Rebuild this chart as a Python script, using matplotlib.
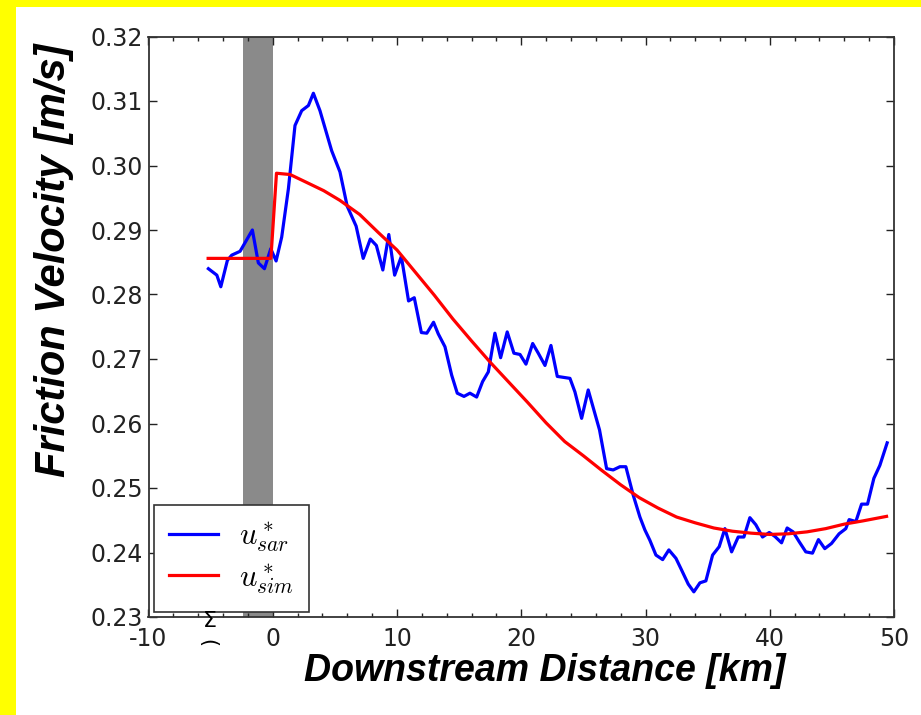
import matplotlib
matplotlib.use("Agg")
import matplotlib.pyplot as plt
from matplotlib.ticker import MultipleLocator
from matplotlib.patches import Rectangle

# Observed friction velocity (SAR retrieval) along the downstream transect
sar_km = [-5.18, -4.5, -4.18, -3.65, -3.3, -2.63, -1.64, -1.16, -0.67, -0.16,
          0.27, 0.72, 1.26, 1.79, 2.33, 2.87, 3.27, 3.8, 4.74, 5.41,
          5.99, 6.71, 7.28, 7.85, 8.34, 8.86, 9.34, 9.81, 10.35, 10.93,
          11.39, 11.96, 12.40, 12.94, 13.32, 13.86, 14.40, 14.85, 15.39, 15.87,
          16.41, 16.89, 17.35, 17.88, 18.34, 18.87, 19.41, 19.90, 20.38, 20.92,
          21.37, 21.91, 22.39, 22.90, 23.92, 24.32, 24.86, 25.39, 26.3, 26.87,
          27.40, 27.94, 28.42, 29.01, 29.55, 29.95, 30.35, 30.84, 31.38, 31.88,
          32.45, 32.90, 33.44, 33.89, 34.38, 34.86, 35.40, 35.93, 36.39, 36.93,
          37.46, 37.92, 38.40, 38.88, 39.42, 39.96, 40.41, 40.95, 41.40, 41.88,
          42.36, 42.90, 43.44, 43.92, 44.43, 44.97, 45.58, 46.12, 46.39, 46.93,
          47.39, 47.87, 48.38, 48.86, 49.45]
sar_ustar = [0.2840, 0.2830, 0.2812, 0.2853, 0.2861, 0.2867, 0.2900, 0.2849, 0.2840, 0.2871,
             0.2852, 0.2889, 0.2964, 0.3062, 0.3085, 0.3093, 0.3112, 0.3085, 0.3023, 0.2990,
             0.2937, 0.2906, 0.2856, 0.2886, 0.2876, 0.2838, 0.2893, 0.2830, 0.2859, 0.2790,
             0.2795, 0.2741, 0.2740, 0.2757, 0.2739, 0.2719, 0.2675, 0.2647, 0.2642, 0.2647,
             0.2641, 0.2665, 0.2680, 0.2740, 0.2702, 0.2742, 0.2709, 0.2707, 0.2692, 0.2724,
             0.2709, 0.2690, 0.2721, 0.2673, 0.2670, 0.2649, 0.2608, 0.2652, 0.2590, 0.2530,
             0.2528, 0.2533, 0.2533, 0.2489, 0.2455, 0.2435, 0.2419, 0.2396, 0.2389, 0.2404,
             0.2391, 0.2373, 0.2351, 0.2339, 0.2353, 0.2356, 0.2396, 0.2409, 0.2437, 0.2401,
             0.2424, 0.2424, 0.2454, 0.2443, 0.2424, 0.2431, 0.2425, 0.2415, 0.2438, 0.2432,
             0.2417, 0.2401, 0.2399, 0.2420, 0.2406, 0.2414, 0.2429, 0.2437, 0.2451, 0.2448,
             0.2475, 0.2475, 0.2515, 0.2535, 0.2570]

# Simulated friction velocity
sim_km = [-5.2, -0.15, 0.3, 1.4, 2.7, 4.1, 5.4, 7.0, 8.5, 10.0,
          11.5, 13.0, 14.5, 16.0, 17.5, 19.0, 20.5, 22.0, 23.5, 25.0,
          26.5, 28.0, 29.5, 31.0, 32.5, 34.0, 35.5, 37.0, 38.5, 40.0,
          41.5, 43.0, 44.5, 46.0, 47.5, 49.4]
sim_ustar = [0.2856, 0.2856, 0.2988, 0.2986, 0.2974, 0.2961, 0.2946, 0.2924, 0.2896, 0.2869,
             0.2834, 0.2799, 0.2762, 0.2728, 0.2695, 0.2664, 0.2633, 0.2601, 0.2572, 0.2550,
             0.2527, 0.2505, 0.2485, 0.2469, 0.2455, 0.2446, 0.2438, 0.2433, 0.2430, 0.2428,
             0.2429, 0.2432, 0.2437, 0.2444, 0.2449, 0.2456]

# Shaded source region
band_km = [-2.4, 0.0]

x_ticks = [-10, 0, 10, 20, 30, 40, 50]
y_ticks = [0.23, 0.24, 0.25, 0.26, 0.27, 0.28, 0.29, 0.30, 0.31, 0.32]

plt.rcParams["axes.unicode_minus"] = False
plt.rcParams["mathtext.fontset"] = "cm"

label_family = "Liberation Sans"

fig = plt.figure(figsize=(9.21, 7.15), dpi=100)
fig.patch.set_facecolor("white")
# yellow frame strips at top and left
fig.patches.append(Rectangle((0, 0), 16 / 921, 1, transform=fig.transFigure,
                             facecolor="#ffff00", edgecolor="none", zorder=-1))
fig.patches.append(Rectangle((0, 1 - 7 / 715), 1, 7 / 715, transform=fig.transFigure,
                             facecolor="#ffff00", edgecolor="none", zorder=-1))

ax = fig.add_axes([148.5 / 921, 1 - 617 / 715, (894 - 148.5) / 921, (617 - 36.5) / 715])

ax.axvspan(band_km[0], band_km[1], color="#8a8a8a", lw=0, zorder=1)
ax.plot(sar_km, sar_ustar, color="#0000ff", lw=2.3, label=r"$u^*_{sar}$", zorder=3)
ax.plot(sim_km, sim_ustar, color="#ff0000", lw=2.3, label=r"$u^*_{sim}$", zorder=3)

ax.set_xlim(-10, 50)
ax.set_ylim(0.23, 0.32)
ax.set_xticks(x_ticks)
ax.set_yticks(y_ticks)
ax.set_xticklabels([str(t) for t in x_ticks])
ax.set_yticklabels([f"{t:.2f}" for t in y_ticks])
ax.xaxis.set_minor_locator(MultipleLocator(2))
ax.tick_params(which="both", direction="in", top=True, right=True, colors="#222222",
               labelcolor="#222222")
ax.tick_params(which="major", length=6, width=1, labelsize=17)
ax.tick_params(which="minor", length=3, width=1)
ax.tick_params(axis="x", which="major", pad=7)
ax.tick_params(axis="y", which="major", pad=4)
for s in ax.spines.values():
    s.set_color("#333333")
    s.set_linewidth(1.3)

ax.set_xlabel("Downstream Distance [km]", family=label_family, weight="bold",
              style="italic", fontsize=27)
ax.xaxis.set_label_coords(0.532, -0.062)
ax.set_ylabel("Friction Velocity [m/s]", family=label_family, weight="bold",
              style="italic", fontsize=30)
ax.yaxis.set_label_coords(-0.100, 0.615)

leg = ax.legend(loc="lower left", fontsize=22, frameon=True, fancybox=False,
                framealpha=1, handlelength=1.6, borderaxespad=0.17,
                labelspacing=0.22, borderpad=0.5, handletextpad=0.7)
leg.get_frame().set_edgecolor("#333333")
leg.get_frame().set_linewidth(1.2)

# small stray glyphs just under the axis near -6 km
fig.text(210 / 921, 1 - 621 / 715, "\u03a3", ha="center", va="center", fontsize=16,
         color="black", zorder=10)
fig.text(210 / 921, 1 - 641 / 715, ")", ha="center", va="center", fontsize=15,
         rotation=90, color="black", zorder=10)

fig.savefig("out.png", dpi=100)
